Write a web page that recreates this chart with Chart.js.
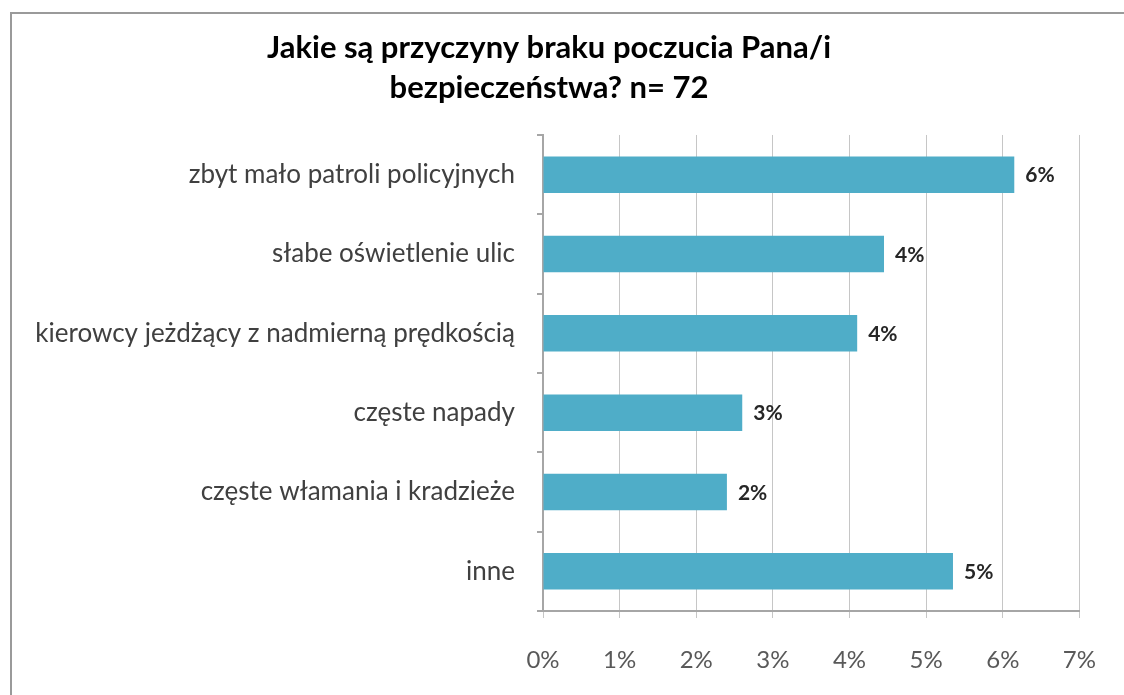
<!DOCTYPE html>
<html>
<head>
<meta charset="utf-8">
<script src="https://cdn.jsdelivr.net/npm/chart.js"></script>
<style>
  body { margin: 0; background: #fff; }
  #wrap { position: relative; width: 1124px; height: 695px; }
</style>
</head>
<body>
<div id="wrap"><canvas id="barChart" width="1124" height="695"></canvas></div>
<script>
    // data (percent)
    const categories = [
        'zbyt mało patroli policyjnych',
        'słabe oświetlenie ulic',
        'kierowcy jeżdżący z nadmierną prędkością',
        'częste napady',
        'częste włamania i kradzieże',
        'inne'
    ];
    const values = [6.15, 4.45, 4.1, 2.6, 2.4, 5.35];
    const valueLabels = ['6%', '4%', '4%', '3%', '2%', '5%'];
    const xTicks = [0, 1, 2, 3, 4, 5, 6, 7];
    const titleLines = ['Jakie są przyczyny braku poczucia Pana/i', 'bezpieczeństwa? n= 72'];

    const FONT = 'Lato, "Open Sans", sans-serif';

    // grey frame around the whole chart
    const framePlugin = {
        id: 'frame',
        beforeDraw(chart) {
            const ctx = chart.ctx;
            ctx.save();
            ctx.strokeStyle = '#9a9a9a';
            ctx.lineWidth = 2;
            ctx.strokeRect(11, 13, 1300, 900);
            ctx.restore();
        }
    };

    // value labels at the end of each bar
    const barLabels = {
        id: 'barLabels',
        afterDatasetsDraw(chart) {
            const ctx = chart.ctx;
            const meta = chart.getDatasetMeta(0);
            ctx.save();
            ctx.font = 'bold 21px ' + FONT;
            ctx.fillStyle = '#262626';
            ctx.textAlign = 'left';
            ctx.textBaseline = 'middle';
            meta.data.forEach((bar, i) => {
                ctx.fillText(valueLabels[i], bar.x + 11, bar.y + 1);
            });
            ctx.restore();
        }
    };

    new Chart(document.getElementById('barChart'), {
        type: 'bar',
        data: {
            labels: categories,
            datasets: [{
                data: values,
                backgroundColor: '#4FADC8',
                borderWidth: 0,
                barPercentage: 0.46,
                categoryPercentage: 1.0
            }]
        },
        options: {
            indexAxis: 'y',
            responsive: false,
            animation: false,
            layout: { padding: { left: 0, right: 26, top: 0, bottom: 0 } },
            plugins: {
                legend: { display: false },
                tooltip: { enabled: false },
                title: {
                    display: true,
                    text: titleLines,
                    color: '#000000',
                    font: { family: FONT, size: 31, weight: 'bold', lineHeight: 1.29 },
                    padding: { top: 28, bottom: 27 }
                }
            },
            scales: {
                x: {
                    min: 0,
                    max: 7,
                    afterBuildTicks(scale) {
                        scale.ticks = xTicks.map(v => ({ value: v }));
                    },
                    afterFit(scale) { scale.height = 84; },
                    grid: {
                        color: '#c6c6c6',
                        lineWidth: 1,
                        tickLength: 7,
                        drawOnChartArea: true
                    },
                    border: { color: '#a6a6a6', width: 2 },
                    ticks: {
                        color: '#595959',
                        font: { family: FONT, size: 24 },
                        padding: 28,
                        callback: v => v + '%'
                    }
                },
                y: {
                    afterFit(scale) { scale.width = 543; },
                    grid: {
                        drawOnChartArea: false,
                        tickLength: 6,
                        color: '#a6a6a6',
                        lineWidth: 2
                    },
                    border: { color: '#a6a6a6', width: 2 },
                    ticks: {
                        color: '#404040',
                        font: { family: FONT, size: 26 },
                        padding: 22
                    }
                }
            }
        },
        plugins: [framePlugin, barLabels]
    });
</script>
</body>
</html>
